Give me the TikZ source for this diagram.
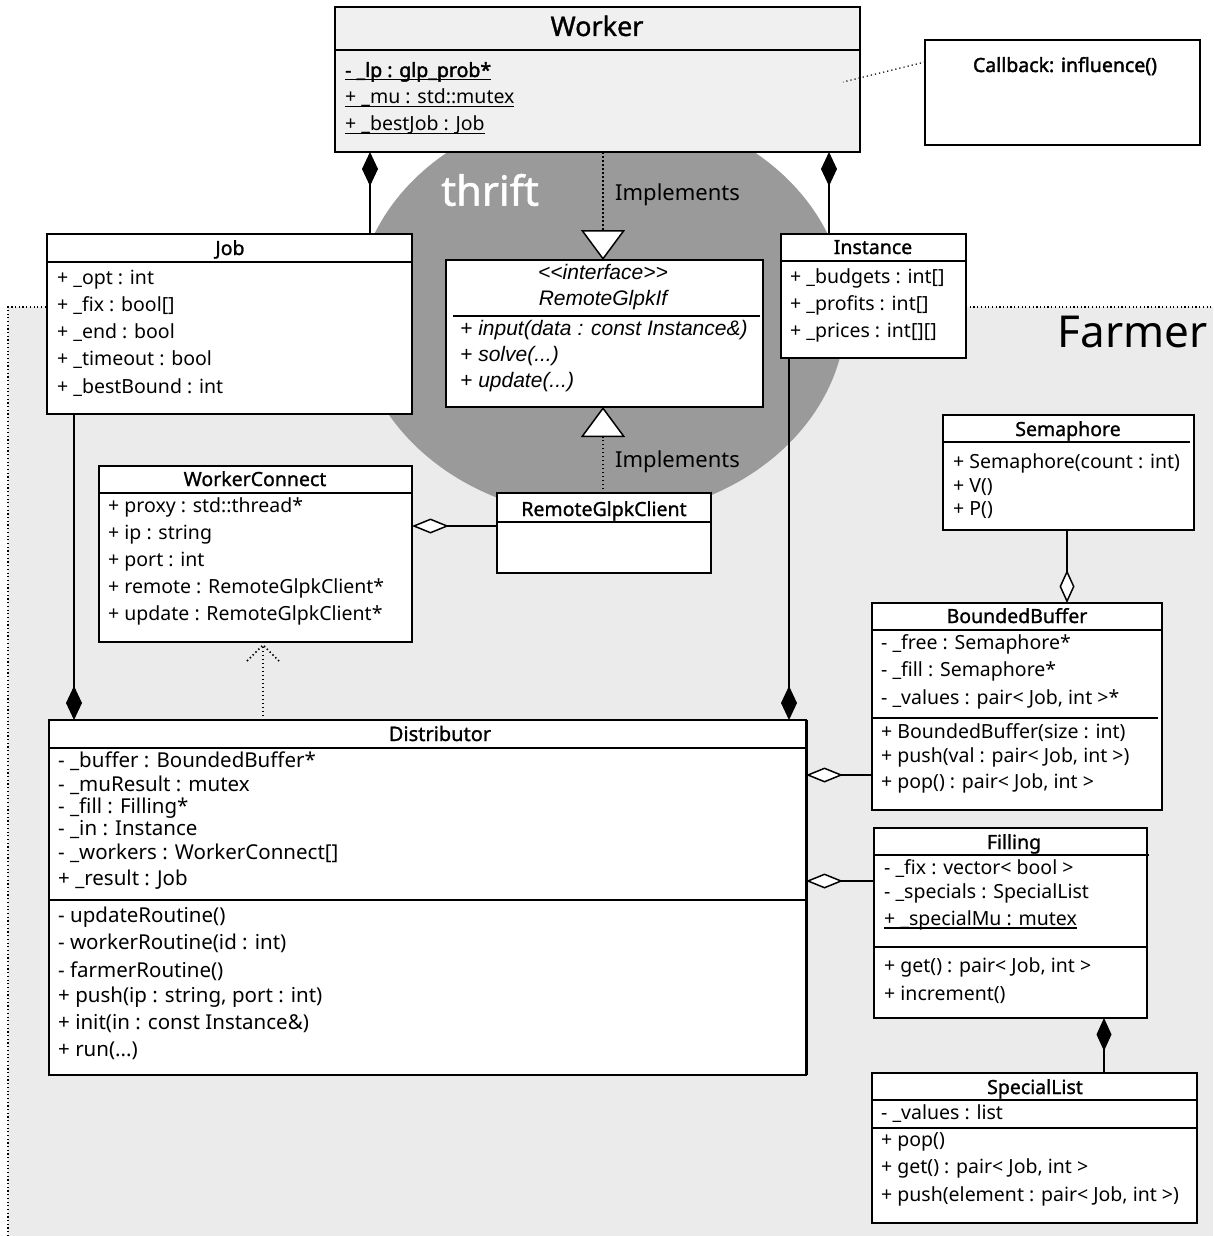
\documentclass[tikz,border=0pt]{standalone}
\usepackage{fontspec}
\setmainfont{Noto Sans}
\newfontfamily\semibold[FakeBold=1.2]{Noto Sans}
\newfontfamily\fullbold[FakeBold=2]{Noto Sans}
\newfontfamily\ifacefont{Liberation Sans}
\usetikzlibrary{arrows.meta}
\definecolor{farmerbg}{HTML}{EBEBEB}
\definecolor{thriftgray}{HTML}{9A9A9A}
\definecolor{workerbg}{HTML}{F0F0F0}
\newcommand\bodysize{\fontsize{19.5}{23}\selectfont}
\newcommand\ttlsize{\fontsize{19.5}{23}\selectfont\semibold}
\newcommand\myul[1]{\setbox0\hbox{#1}\rlap{\rule[-3.5pt]{\wd0}{1.2pt}}\box0}
\begin{document}
\begin{tikzpicture}[x=1pt,y=-1pt,
  box/.style={draw, line width=1.5pt, fill=white, inner sep=0pt, outer sep=0pt, anchor=north west},
  sepl/.style={line width=1.5pt},
  txt/.style={anchor=west, inner sep=0pt, text height=14pt, text depth=4pt, font=\bodysize},
  ttl/.style={inner sep=0pt, text height=14pt, text depth=4pt, font=\ttlsize},
  ctxt/.style={txt, font=\fontsize{20.5}{24}\selectfont},
  itxt/.style={txt, font=\fontsize{21}{24}\selectfont\ifacefont\itshape},
  conn/.style={line width=1.5pt},
  dotl/.style={line width=1.5pt, dash pattern=on 1.5pt off 2.5pt},
  comp/.style={conn, -{Diamond[length=34pt,width=16pt]}},
  aggr/.style={conn, -{Diamond[length=37pt,width=15pt,fill=white]}},
  realz/.style={dotl, -{Triangle[length=30pt,width=44pt,fill=white,line width=1.5pt]}},
]
\useasboundingbox (0,0) rectangle (1213,1236);
\fill[white] (0,0) rectangle (1213,1236);
% Farmer region
\fill[farmerbg] (8,307) rectangle (1213,1236);
\draw[line width=1.2pt, dash pattern=on 1.2pt off 2.5pt] (8,1236) -- (8,307) -- (1213,307);
\node[anchor=east, inner sep=0pt, font=\fontsize{44}{48}\selectfont] (farmerT) at (1208,332) {Farmer};
% thrift ellipse
\fill[thriftgray] (601,312) ellipse [x radius=245pt, y radius=205pt];
\node[anchor=west, inner sep=0pt, text=white, font=\fontsize{41.5}{45}\selectfont\semibold] (thriftT) at (441,190) {thrift};

% Worker
\node[box, fill=workerbg, minimum width=525pt, minimum height=145pt] (worker) at (335,7) {};
\draw[sepl] (worker.west |- 0,50) -- (worker.east |- 0,50);
\node[ttl, font=\fontsize{27}{30}\selectfont\semibold] (workerT) at (597,31) {Worker};
\node[txt, font=\bodysize\fullbold] (w1) at (345,72) {\myul{- \_lp : glp\_prob*}};
\node[txt] (w2) at (345,99) {\myul{+ \_mu : std::mutex}};
\node[txt] (w3) at (345,126) {\myul{+ \_bestJob : Job}};

% Callback
\node[box, minimum width=275pt, minimum height=105pt] (callback) at (925,40) {};
\node[ttl, font=\fontsize{19.5}{22}\selectfont\fullbold] (cbT) at (1065,67) {Callback: influence()};
\coordinate (cbend) at (843,82);
\draw[line width=1.2pt, dash pattern=on 1.2pt off 3pt] (callback.west |- 0,62) -- (cbend);

% Job
\node[box, minimum width=365pt, minimum height=180pt] (job) at (47,234) {};
\draw[sepl] (job.west |- 0,262) -- (job.east |- 0,262);
\node[ttl] (jobT) at (230,250) {Job};
\node[txt] (j1) at (57,279) {+ \_opt : int};
\node[txt] (j2) at (57,306) {+ \_fix : bool[]};
\node[txt] (j3) at (57,333) {+ \_end : bool};
\node[txt] (j4) at (57,360) {+ \_timeout : bool};
\node[txt] (j5) at (57,388) {+ \_bestBound : int};

% Interface
\node[box, minimum width=317pt, minimum height=147pt] (iface) at (446,260) {};
\node[itxt, anchor=center] (i0) at (603,274) {<\kern0pt<interface>\kern0pt>};
\node[itxt, anchor=center] (i1) at (603,300) {RemoteGlpkIf};
\draw[line width=1.2pt] (453,316) -- (760,316);
\node[itxt] (i2) at (460,330) {+ input(data : const Instance\&)};
\node[itxt] (i3) at (460,356) {+ solve(...)};
\node[itxt] (i4) at (460,382) {+ update(...)};

% Instance
\node[box, minimum width=185pt, minimum height=124pt] (instance) at (781,234) {};
\draw[sepl] (instance.west |- 0,261) -- (instance.east |- 0,261);
\node[ttl] (instT) at (873,249) {Instance};
\node[txt] (n1) at (790,278) {+ \_budgets : int[]};
\node[txt] (n2) at (790,305) {+ \_profits : int[]};
\node[txt] (n3) at (790,332) {+ \_prices : int[][]};

% WorkerConnect
\node[box, minimum width=313pt, minimum height=176pt] (wc) at (99,466) {};
\draw[sepl] (wc.west |- 0,493) -- (wc.east |- 0,493);
\node[ttl] (wcT) at (255,481) {WorkerConnect};
\node[txt] (c1) at (108,507) {+ proxy : std::thread*};
\node[txt] (c2) at (108,534) {+ ip : string};
\node[txt] (c3) at (108,561) {+ port : int};
\node[txt] (c4) at (108,588) {+ remote : RemoteGlpkClient*};
\node[txt] (c5) at (108,615) {+ update : RemoteGlpkClient*};

% RemoteGlpkClient
\node[box, minimum width=214pt, minimum height=80pt] (rgc) at (497,493) {};
\draw[sepl] (rgc.west |- 0,522) -- (rgc.east |- 0,522);
\node[ttl] (rgcT) at (604,511) {RemoteGlpkClient};

% Implements labels
\node[anchor=west, inner sep=0pt, font=\fontsize{22}{26}\selectfont] (impl1) at (615,195) {Implements};
\node[anchor=west, inner sep=0pt, font=\fontsize{22}{26}\selectfont] (impl2) at (615,462) {Implements};

% Semaphore
\node[box, minimum width=251pt, minimum height=115pt] (sem) at (943,415) {};
\draw[sepl] (sem.west |- 0,442) -- (1190,442);
\node[ttl] (semT) at (1068,431) {Semaphore};
\node[txt] (s1) at (953,463) {+ Semaphore(count : int)};
\node[txt] (s2) at (953,487) {+ V()};
\node[txt] (s3) at (953,510) {+ P()};

% BoundedBuffer
\node[box, minimum width=290pt, minimum height=207pt] (bb) at (872,603) {};
\draw[sepl] (bb.west |- 0,630) -- (bb.east |- 0,630);
\node[ttl] (bbT) at (1017,618) {BoundedBuffer};
\node[txt] (b1) at (881,644) {- \_free : Semaphore*};
\node[txt] (b2) at (881,671) {- \_fill : Semaphore*};
\node[txt] (b3) at (881,699) {- \_values : pair< Job, int >*};
\draw[sepl] (bb.west |- 0,718) -- (1158,718);
\node[txt] (b4) at (881,733) {+ BoundedBuffer(size : int)};
\node[txt] (b5) at (881,757) {+ push(val : pair< Job, int >)};
\node[txt] (b6) at (881,783) {+ pop() : pair< Job, int >};

% Distributor
\node[box, minimum width=757pt, minimum height=355pt] (dist) at (49,720) {};
\draw[line width=3pt] (dist.north east) -- (dist.south east);
\draw[sepl] (dist.west |- 0,748) -- (dist.east |- 0,748);
\node[ttl, font=\fontsize{20}{24}\selectfont\semibold] (distT) at (440,736) {Distributor};
\node[ctxt] (d1) at (58,762) {- \_buffer : BoundedBuffer*};
\node[ctxt] (d2) at (58,786) {- \_muResult : mutex};
\node[ctxt] (d3) at (58,808) {- \_fill : Filling*};
\node[ctxt] (d4) at (58,830) {- \_in : Instance};
\node[ctxt] (d5) at (58,854) {- \_workers : WorkerConnect[]};
\node[ctxt] (d6) at (58,880) {+ \_result : Job};
\draw[line width=2.2pt] (dist.west |- 0,900) -- (dist.east |- 0,900);
\node[ctxt] (d7) at (58,917) {- updateRoutine()};
\node[ctxt] (d8) at (58,944) {- workerRoutine(id : int)};
\node[ctxt] (d9) at (58,972) {- farmerRoutine()};
\node[ctxt] (d10) at (58,997) {+ push(ip : string, port : int)};
\node[ctxt] (d11) at (58,1024) {+ init(in : const Instance\&)};
\node[ctxt] (d12) at (58,1051) {+ run(...)};

% Filling
\node[box, minimum width=273pt, minimum height=190pt] (fill) at (874,828) {};
\draw[sepl] (fill.west |- 0,855) -- (1149,855);
\node[ttl] (fillT) at (1014,844) {Filling};
\node[txt] (f1) at (884,869) {- \_fix : vector< bool >};
\node[txt] (f2) at (884,893) {- \_specials : SpecialList};
\node[txt] (f3) at (884,920) {\myul{+ \_specialMu : mutex}};
\draw[sepl] (fill.west |- 0,947) -- (1146,947);
\node[txt] (f4) at (884,967) {+ get() : pair< Job, int >};
\node[txt] (f5) at (884,995) {+ increment()};

% SpecialList
\node[box, minimum width=325pt, minimum height=150pt] (sl) at (872,1073) {};
\draw[sepl] (sl.west |- 0,1100) -- (sl.east |- 0,1100);
\node[ttl] (slT) at (1035,1089) {SpecialList};
\node[txt] (l1) at (881,1114) {- \_values : list};
\draw[sepl] (sl.west |- 0,1128) -- (sl.east |- 0,1128);
\node[txt] (l2) at (881,1141) {+ pop()};
\node[txt] (l3) at (881,1168) {+ get() : pair< Job, int >};
\node[txt] (l4) at (881,1196) {+ push(element : pair< Job, int >)};

% Connectors
\draw[comp] (370,0 |- job.north) -- (370,0 |- worker.south);
\draw[comp] (829,0 |- instance.north) -- (829,0 |- worker.south);
\draw[comp] (74,0 |- job.south) -- (74,0 |- dist.north);
\draw[comp] (789,0 |- instance.south) -- (789,0 |- dist.north);
\draw[realz] (603,0 |- worker.south) -- (603,0 |- iface.north);
\draw[realz] (603,0 |- rgc.north) -- (603,0 |- iface.south);
\draw[aggr] (rgc.west |- 0,526) -- (wc.east |- 0,526);
\draw[conn, -{Diamond[length=33pt,width=15pt,fill=white]}] (1067,0 |- sem.south) -- (1067,0 |- bb.north);
\draw[aggr] (bb.west |- 0,775) -- (dist.east |- 0,775);
\draw[aggr] (fill.west |- 0,881) -- (dist.east |- 0,881);
\draw[conn, -{Diamond[length=33pt,width=15pt]}] (1104,0 |- sl.north) -- (1104,0 |- fill.south);
% dependency Distributor -> WorkerConnect
\coordinate (dep) at ([yshift=-3pt]263,0 |- wc.south);
\draw[dotl] (263,0 |- dist.north) -- (dep);
\draw[dotl] ([xshift=-16pt,yshift=-16pt]dep) -- (dep) -- ([xshift=16pt,yshift=-16pt]dep);
\end{tikzpicture}
\end{document}
